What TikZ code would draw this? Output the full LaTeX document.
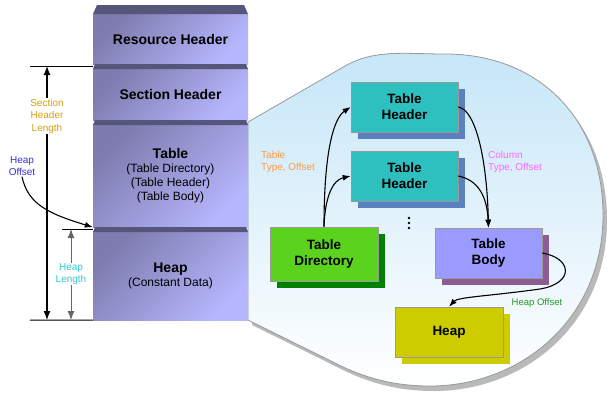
\documentclass[tikz,border=0pt]{standalone}
\usepackage{fontspec}
\setmainfont{Liberation Sans}
\usetikzlibrary{arrows.meta,shadows}
\definecolor{stackdark}{HTML}{7E7CAE}
\definecolor{stacklight}{HTML}{B6B6FE}
\definecolor{stackband}{HTML}{56567A}
\definecolor{bubbletop}{HTML}{C6E6F8}
\definecolor{hdrfill}{HTML}{2EBFBF}
\definecolor{hdrshadow}{HTML}{5A80C0}
\definecolor{dirfill}{HTML}{5AD21E}
\definecolor{dirshadow}{HTML}{008000}
\definecolor{bodyfill}{HTML}{9A9AFF}
\definecolor{bodyshadow}{HTML}{8C5C94}
\definecolor{heapfill}{HTML}{CCCC00}
\definecolor{lblorange}{HTML}{FF9A3C}
\definecolor{lblgold}{HTML}{D4A010}
\definecolor{lblcyan}{HTML}{33CCCC}
\definecolor{lblblue}{HTML}{3333CC}
\definecolor{lblpink}{HTML}{FF66FF}
\definecolor{lblgreen}{HTML}{229922}
\begin{document}
\begin{tikzpicture}
[
    x=1pt, y=-1pt,
    stack/.style={minimum width=155pt, inner sep=0pt, align=center,
        top color=stackdark, bottom color=stacklight, shading angle=45,
        font=\fontsize{12}{14}\selectfont},
    box/.style={minimum width=107pt, minimum height=50pt, inner sep=0pt, align=center,
        draw=gray!80, line width=0.6pt, font=\bfseries\fontsize{13.5}{16}\selectfont},
    boxshadow/.style={drop shadow={fill=#1, opacity=1, shadow xshift=7pt, shadow yshift=-7pt}},
    small/.style={font=\fontsize{10}{12}\selectfont, align=center, inner sep=1pt},
    link/.style={-{Latex[length=8pt,width=6pt]}, line width=1.1pt},
    dim/.style={{Latex[length=9pt,width=7pt]}-{Latex[length=9pt,width=7pt]}, line width=1.2pt},
]
\useasboundingbox (0,0) rectangle (607,394);
% bubble
\begin{scope}[shift={(4,5)}]
\fill[gray!55] (248,122) -- (345,66) .. controls (375,49) and (405,54) .. (445,54)
    .. controls (540,54) and (603,120) .. (603,215) .. controls (603,320) and (520,386) .. (430,386)
    .. controls (390,386) and (360,376) .. (333,362) -- (248,320) -- cycle;
\end{scope}
\path[draw=gray!80, line width=0.8pt, top color=bubbletop, bottom color=white]
    (248,122) -- (345,66) .. controls (375,49) and (405,54) .. (445,54)
    .. controls (540,54) and (603,120) .. (603,215) .. controls (603,320) and (520,386) .. (430,386)
    .. controls (390,386) and (360,376) .. (333,362) -- (248,320) -- cycle;

% stack
\node[stack, minimum height=50pt] (res) at (170.5,39) {\bfseries\fontsize{14}{16}\selectfont Resource Header};
\node[stack, minimum height=51pt] (sec) at (170.5,94.5) {\bfseries\fontsize{14}{16}\selectfont Section Header};
\node[stack, minimum height=102pt] (tab) at (170.5,176) {{\bfseries\fontsize{14}{16}\selectfont Table}\\(Table Directory)\\(Table Header)\\(Table Body)};
\node[stack, minimum height=88pt] (hp) at (170.5,276) {{\bfseries\fontsize{14}{16}\selectfont Heap}\\(Constant Data)};
\foreach \t/\b/\i in {5/14/4, 64/69/2, 120/125/2, 227/232/2}
    \fill[stackband] (93,\b) -- (93+\i,\t) -- (248-\i,\t) -- (248,\b) -- cycle;

% lengths
\coordinate (seclen top) at (30,66);
\coordinate (hplen top) at (62,229);
\coordinate (base) at (30,320);
\draw[line width=1pt] (seclen top) -- (seclen top -| sec.west);
\draw[line width=1pt] (hplen top) -- (hplen top -| hp.west);
\draw[line width=1pt] (base) -- (hp.south west);
\draw[dim] ([xshift=17pt]seclen top) -- ([xshift=17pt]base);
\draw[dim, line width=0.9pt, draw=black!60, fill=black] ([xshift=9pt]hplen top) -- ([xshift=41pt]base);
\node[small, text=lblgold, fill=white, font=\fontsize{10}{12.5}\selectfont] (seclen) at (47,116) {Section\\Header\\Length};
\node[small, text=lblcyan, fill=white] (hplen) at (71,274) {Heap\\Length};
\node[small, text=lblblue] (hpoff) at (22,166) {Heap\\Offset};
\draw[link] (hpoff.south) .. controls (28,205) and (50,214) .. (tab.south west);

% inside
\node[box, fill=hdrfill, boxshadow=hdrshadow] (th1) at (404.5,107) {Table\\Header};
\node[box, fill=hdrfill, boxshadow=hdrshadow] (th2) at (404.5,176) {Table\\Header};
\foreach \y in {218,223,228}
    \fill (409,\y) circle (1.4);
\node[box, fill=dirfill, boxshadow=dirshadow, minimum width=108pt, minimum height=54pt] (tdir) at (324,254) {Table\\Directory};
\node[box, fill=bodyfill, boxshadow=bodyshadow] (tbody) at (488.5,253) {Table\\Body};
\node[box, fill=heapfill, boxshadow=heapfill, minimum width=108pt] (theap) at (449,332) {Heap};

\draw[link] (tdir.north) .. controls (324,150) and (334,118) .. (th1.west);
\draw[link] (tdir.north) .. controls (325,196) and (333,180) .. (th2.west);
\draw[link] (th1.east) .. controls (476,110) and (487,160) .. (tbody.north);
\draw[link] (th2.east) .. controls (478,180) and (487,196) .. (tbody.north);
\draw[link] (tbody.east) .. controls (572,258) and (575,283) .. (540,289)
    .. controls (490,296) and (458,297) .. (theap.north);
\node[small, text=lblorange, align=left, anchor=west] (ttype) at (260,162) {Table\\Type, Offset};
\node[small, text=lblpink, align=left, anchor=west] (ctype) at (487,162) {Column\\Type, Offset};
\node[small, text=lblgreen, font=\fontsize{9.5}{11}\selectfont] (hoff) at (537,303) {Heap Offset};
\end{tikzpicture}
\end{document}
